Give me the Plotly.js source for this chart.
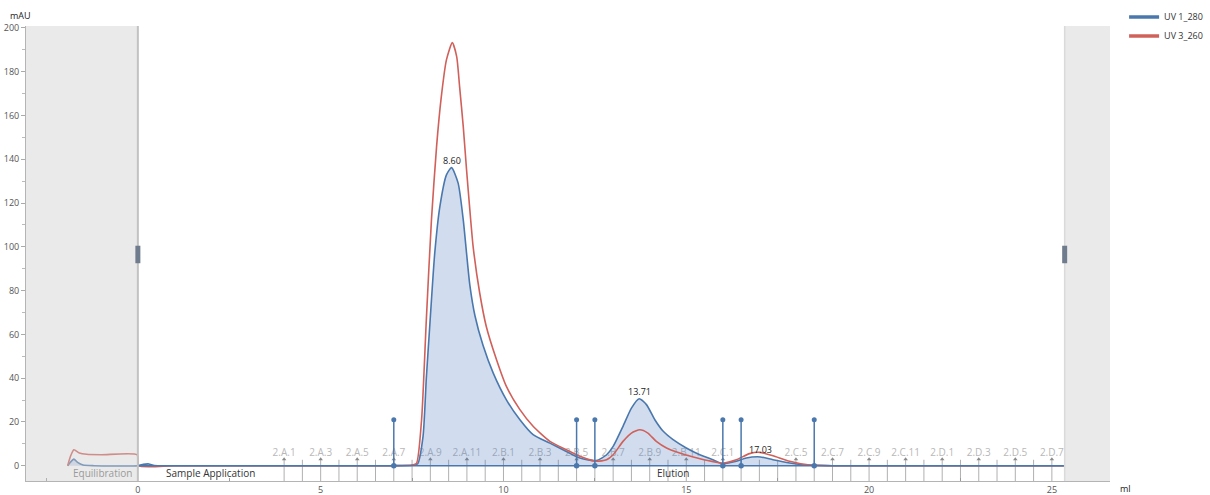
<!DOCTYPE html>
<html>
<head>
<meta charset="utf-8">
<script src="https://cdn.plot.ly/plotly-3.0.1.min.js"></script>
<style>html,body{margin:0;padding:0;background:#fff;}#chart{width:1210px;height:495px;}</style>
</head>
<body>
<div id="chart"></div>
<script>
// UV 1_280 (blue) curve, ml vs mAU
const blueX = [-1.92, -1.85, -1.75, -1.65, -1.5, -1.2, 0, 0.15, 0.3, 0.45, 1, 3, 5, 7, 7.5, 7.65, 7.8, 7.89, 7.98, 8.12, 8.26, 8.44, 8.58, 8.76, 8.9, 8.99, 9.08, 9.22, 9.44, 9.72, 10.08, 10.45, 10.81, 11.27, 11.72, 12.09, 12.54, 12.82, 13.0, 13.27, 13.5, 13.71, 13.91, 14.14, 14.37, 14.64, 15.0, 15.37, 15.73, 16.0, 16.37, 16.64, 17.03, 17.37, 17.83, 18.28, 19, 22, 25.35];
const blueY = [0, 1.5, 3.0, 1.5, 0.3, 0, 0, 0.6, 0.8, 0.1, 0, 0, 0, 0, 0.2, 0.8, 13.4, 40, 62.9, 97.1, 118.4, 132.9, 136.2, 129.1, 112.3, 97.1, 82.5, 68.5, 55.0, 42.3, 30.1, 21.0, 14.2, 10.3, 6.5, 3.5, 2.3, 5.0, 8.8, 18, 26.3, 30.6, 27.9, 21.0, 15.7, 11.9, 8.1, 5.0, 2.7, 0.9, 2.0, 3.5, 4.0, 2.7, 1.2, 0.3, 0, 0, 0];
// UV 3_260 (red) curve
const redX = [-1.92, -1.85, -1.75, -1.6, -1.4, -1.0, -0.02, 0.02, 1, 3, 5, 7, 7.5, 7.62, 7.76, 7.89, 8.03, 8.17, 8.30, 8.44, 8.60, 8.72, 8.80, 8.90, 8.99, 9.08, 9.17, 9.35, 9.53, 9.81, 10.08, 10.45, 10.81, 11.27, 11.72, 12.09, 12.54, 12.82, 13.0, 13.27, 13.5, 13.73, 13.95, 14.18, 14.46, 14.82, 15.19, 15.55, 16.0, 16.37, 16.73, 17.01, 17.37, 17.83, 18.28, 19, 22, 25.35];
const redY = [0, 4, 7.3, 5.8, 5.2, 5.0, 5.0, 0, 0, 0, 0, 0, 0.3, 1.0, 21.0, 66.7, 112.3, 145.8, 168.6, 185.4, 193.3, 186.9, 173.2, 154.9, 135.2, 116.9, 100.1, 78.9, 63.6, 48.4, 36.2, 25.6, 18.0, 11.1, 7.3, 4.3, 2.0, 2.7, 5.0, 11.1, 14.9, 16.4, 14.9, 11.1, 8.1, 5.8, 4.0, 2.5, 1.2, 2.7, 5.5, 6.1, 4.5, 2.0, 0.5, 0, 0, 0];

// Fraction boundaries (ml) and labelled fractions
const fractionBounds = [4, 4.5, 5, 5.5, 6, 6.5, 7, 7.5, 8, 8.5, 9, 9.5, 10, 10.5, 11, 11.5, 12, 12.5, 13, 13.5, 14, 14.5, 15, 15.5, 16, 16.5, 17, 17.5, 18, 18.5, 19, 19.5, 20, 20.5, 21, 21.5, 22, 22.5, 23, 23.5, 24, 24.5, 25];
const fractionLabelX = [4, 5, 6, 7, 8, 9, 10, 11, 12, 13, 14, 15, 16, 18, 19, 20, 21, 22, 23, 24, 25];
const fractionLabels = ["2.A.1", "2.A.3", "2.A.5", "2.A.7", "2.A.9", "2.A.11", "2.B.1", "2.B.3", "2.B.5", "2.B.7", "2.B.9", "2.B.11", "2.C.1", "2.C.5", "2.C.7", "2.C.9", "2.C.11", "2.D.1", "2.D.3", "2.D.5", "2.D.7"];

// Event marks (ml)
const eventX = [7, 12, 12.5, 16, 16.5, 18.5];
const eventHeight = 21;

// Peak labels
const peakX = [8.60, 13.71, 17.03];
const peakY = [136.2, 30.6, 4.0];
const peakText = ["8.60", "13.71", "17.03"];

// Phase labels
const phaseX = [-0.96, 2.0, 14.65];
const phaseText = ["Equilibration", "Sample Application", "Elution"];

// Method boundaries (ml)
const xStart = -3.06, methodStart = 0, methodEnd = 25.35, xEnd = 26.59;

const BLUE = '#4a78ad', RED = '#d0605a';
const FONT = '"Open Sans", "Noto Sans", sans-serif';

const fx = [], fy = [];
fractionBounds.forEach(b => { fx.push(b, b, null); fy.push(2.7, -7.5, null); });
const ex = [], ey = [];
eventX.forEach(e => { ex.push(e, e, null); ey.push(0, eventHeight, null); });

const traces = [
  {x: fx, y: fy, mode: 'lines', line: {color: '#b0b0b0', width: 1}, hoverinfo: 'skip', showlegend: false},
  {x: fractionLabelX, y: fractionLabelX.map(() => 2.9), mode: 'markers', marker: {symbol: 'triangle-up', size: 4, color: '#8a8a8a'}, hoverinfo: 'skip', showlegend: false},
  {x: fractionLabelX, y: fractionLabelX.map(() => 5.6), mode: 'text', text: fractionLabels, textfont: {family: FONT, size: 10, color: '#b8b8b8'}, hoverinfo: 'skip', showlegend: false, cliponaxis: false},
  {x: blueX, y: blueY, name: 'UV 1_280', mode: 'lines', line: {color: BLUE, width: 1.6, shape: 'spline', smoothing: 0.6}, fill: 'tozeroy', fillcolor: 'rgba(70,120,190,0.25)', showlegend: false},
  {x: redX, y: redY, name: 'UV 3_260', mode: 'lines', line: {color: RED, width: 1.6, shape: 'spline', smoothing: 0.6}, showlegend: false},
  {x: ex, y: ey, mode: 'lines', line: {color: BLUE, width: 1.5}, hoverinfo: 'skip', showlegend: false},
  {x: eventX, y: eventX.map(() => eventHeight), mode: 'markers', marker: {size: 5, color: BLUE}, hoverinfo: 'skip', showlegend: false},
  {x: eventX, y: eventX.map(() => 0), mode: 'markers', marker: {size: 5.5, color: BLUE}, hoverinfo: 'skip', showlegend: false},
  {x: [methodStart, methodEnd], y: [0, 0], mode: 'lines', line: {color: BLUE, width: 1.6}, hoverinfo: 'skip', showlegend: false},
  // legend entries
  {x: [null], y: [null], name: 'UV 1_280', mode: 'lines', line: {color: BLUE, width: 3.5}, showlegend: true},
  {x: [null], y: [null], name: 'UV 3_260', mode: 'lines', line: {color: RED, width: 3.5}, showlegend: true}
];

const annotations = [];
peakX.forEach((p, i) => annotations.push({x: p, y: peakY[i], text: peakText[i], showarrow: false, yanchor: 'bottom', yshift: -1, font: {family: FONT, size: 9, color: '#222'}}));
phaseX.forEach((p, i) => annotations.push({x: p, y: -3.2, text: phaseText[i], showarrow: false, font: {family: FONT, size: 10, color: i === 0 ? '#9a9a9a' : '#333'}}));
annotations.push({xref: 'paper', yref: 'paper', x: 0, xshift: -6, xanchor: 'center', y: 1.0, yshift: 11, yanchor: 'middle', text: 'mAU', showarrow: false, font: {family: FONT, size: 9, color: '#222'}});
annotations.push({xref: 'paper', yref: 'paper', x: 1.0, xshift: 15, xanchor: 'center', y: 0, yshift: -7, yanchor: 'middle', text: 'ml', showarrow: false, font: {family: FONT, size: 9, color: '#222'}});

const shapes = [
  {type: 'rect', xref: 'x', yref: 'paper', x0: xStart, x1: methodStart, y0: 0, y1: 1, fillcolor: 'rgba(205,205,205,0.42)', line: {width: 0}, layer: 'above'},
  {type: 'rect', xref: 'x', yref: 'paper', x0: methodEnd, x1: xEnd, y0: 0, y1: 1, fillcolor: 'rgba(205,205,205,0.42)', line: {width: 0}, layer: 'above'},
  {type: 'line', xref: 'x', yref: 'paper', x0: methodStart, x1: methodStart, y0: 0, y1: 1, line: {color: '#c2c2c2', width: 2}, layer: 'above'},
  {type: 'line', xref: 'x', yref: 'paper', x0: methodEnd, x1: methodEnd, y0: 0, y1: 1, line: {color: '#dadada', width: 1.5}, layer: 'above'},
  {type: 'rect', xref: 'x', yref: 'y', xsizemode: 'pixel', xanchor: methodStart, x0: -2.5, x1: 2.5, y0: 92.5, y1: 100.5, fillcolor: '#6f7c8e', line: {width: 0}, layer: 'above'},
  {type: 'rect', xref: 'x', yref: 'y', xsizemode: 'pixel', xanchor: methodEnd, x0: -2.5, x1: 2.5, y0: 92.5, y1: 100.5, fillcolor: '#6f7c8e', line: {width: 0}, layer: 'above'}
];

const layout = {
  width: 1210, height: 495,
  margin: {l: 26, r: 100, t: 26, b: 14, autoexpand: false},
  paper_bgcolor: '#fff', plot_bgcolor: '#fff',
  font: {family: FONT, size: 9, color: '#555'},
  showlegend: true,
  legend: {xref: 'container', yref: 'container', x: 0.929, y: 0.995, xanchor: 'left', yanchor: 'top', font: {family: FONT, size: 9, color: '#333'}, bgcolor: 'rgba(0,0,0,0)', tracegroupgap: 2, itemwidth: 30},
  xaxis: {range: [xStart, xEnd], tickvals: [0, 5, 10, 15, 20, 25], ticktext: ['0', '5', '10', '15', '20', '25'], ticks: '', showgrid: false, zeroline: false, showline: true, linecolor: '#b4b4b4', linewidth: 1, tickfont: {family: FONT, size: 9, color: '#555'}, minor: {tickvals: [-2.5, 2.5, 7.5, 12.5, 17.5, 22.5], ticks: 'inside', ticklen: 3, tickcolor: '#999'}},
  yaxis: {range: [-7.0, 200.9], tickvals: [0, 20, 40, 60, 80, 100, 120, 140, 160, 180, 200], ticks: 'outside', ticklen: 4, tickcolor: '#aaa', showgrid: false, zeroline: false, showline: true, linecolor: '#b4b4b4', linewidth: 1, tickfont: {family: FONT, size: 9, color: '#555'}, minor: {dtick: 10, ticks: 'outside', ticklen: 3, tickcolor: '#bbb'}},
  annotations: annotations,
  shapes: shapes
};

Plotly.newPlot('chart', traces, layout, {displayModeBar: false, staticPlot: true});
</script>
</body>
</html>
